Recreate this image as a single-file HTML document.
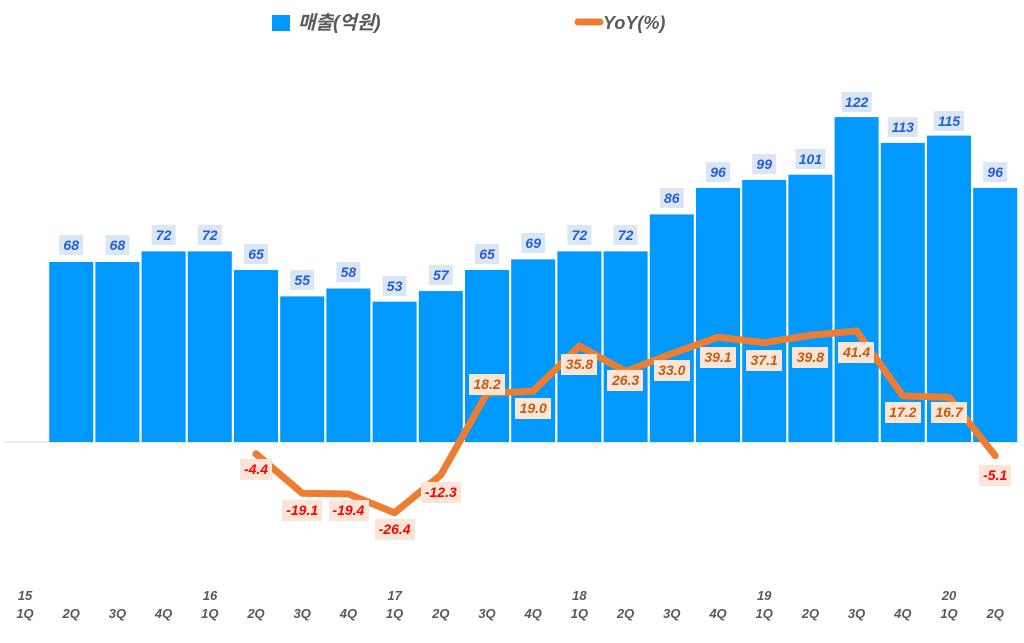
<!DOCTYPE html>
<html><head><meta charset="utf-8"><style>
body{margin:0;background:#fff}
svg text{font-family:"Liberation Sans","Noto Sans CJK KR",sans-serif;font-weight:bold;font-style:italic}
.b text{fill:#1f5fdc;font-size:14px}
.b rect{fill:#dce6f2}
.p rect{fill:#fbe5d6}
.p text{fill:#c55a11;font-size:14px}
.n text{fill:#ff0000}
.ax text{fill:#595959;font-size:13px}
</style></head><body>
<svg width="1024" height="638" xmlns="http://www.w3.org/2000/svg">
<rect x="272" y="15" width="18" height="16" fill="#0099ff"/>
<text x="298" y="29" font-size="19" fill="#595959">매출(억원)</text>
<line x1="578" y1="22" x2="600" y2="22" stroke="#ed7d31" stroke-width="7" stroke-linecap="round"/>
<text x="603" y="29" font-size="18" fill="#595959">YoY(%)</text>
<line x1="5" y1="442" x2="1020" y2="442" stroke="#d9d9d9"/>
<g fill="#0099ff">
<rect x="49.2" y="262" width="44" height="180"/>
<rect x="95.4" y="262" width="44" height="180"/>
<rect x="141.6" y="251.4" width="44" height="190.6"/>
<rect x="187.8" y="251.4" width="44" height="190.6"/>
<rect x="234" y="270" width="44" height="172"/>
<rect x="280.2" y="296.4" width="44" height="145.6"/>
<rect x="326.4" y="288.5" width="44" height="153.5"/>
<rect x="372.6" y="301.7" width="44" height="140.3"/>
<rect x="418.8" y="291.1" width="44" height="150.9"/>
<rect x="465" y="270" width="44" height="172"/>
<rect x="511.2" y="259.4" width="44" height="182.6"/>
<rect x="557.4" y="251.4" width="44" height="190.6"/>
<rect x="603.6" y="251.4" width="44" height="190.6"/>
<rect x="649.8" y="214.4" width="44" height="227.6"/>
<rect x="696" y="187.9" width="44" height="254.1"/>
<rect x="742.2" y="180" width="44" height="262"/>
<rect x="788.4" y="174.7" width="44" height="267.3"/>
<rect x="834.6" y="117.1" width="44" height="324.9"/>
<rect x="880.8" y="142.9" width="44" height="299.1"/>
<rect x="927" y="135.6" width="44" height="306.4"/>
<rect x="973.2" y="187.9" width="44" height="254.1"/>
</g>
<g class="b" text-anchor="middle">
<rect x="59.2" y="235" width="24" height="20"/><text x="71.2" y="250">68</text>
<rect x="105.4" y="235" width="24" height="20"/><text x="117.4" y="250">68</text>
<rect x="151.6" y="225" width="24" height="20"/><text x="163.6" y="240">72</text>
<rect x="197.8" y="225" width="24" height="20"/><text x="209.8" y="240">72</text>
<rect x="244" y="244" width="24" height="20"/><text x="256" y="259">65</text>
<rect x="290.2" y="270" width="24" height="20"/><text x="302.2" y="285">55</text>
<rect x="336.4" y="262" width="24" height="20"/><text x="348.4" y="277">58</text>
<rect x="382.6" y="276" width="24" height="20"/><text x="394.6" y="291">53</text>
<rect x="428.8" y="265" width="24" height="20"/><text x="440.8" y="280">57</text>
<rect x="475" y="244" width="24" height="20"/><text x="487" y="259">65</text>
<rect x="521.2" y="233" width="24" height="20"/><text x="533.2" y="248">69</text>
<rect x="567.4" y="225" width="24" height="20"/><text x="579.4" y="240">72</text>
<rect x="613.6" y="225" width="24" height="20"/><text x="625.6" y="240">72</text>
<rect x="659.8" y="188" width="24" height="20"/><text x="671.8" y="203">86</text>
<rect x="706" y="162" width="24" height="20"/><text x="718" y="177">96</text>
<rect x="752.2" y="154" width="24" height="20"/><text x="764.2" y="169">99</text>
<rect x="795.4" y="149" width="30" height="20"/><text x="810.4" y="164">101</text>
<rect x="841.6" y="92" width="30" height="20"/><text x="856.6" y="107">122</text>
<rect x="887.8" y="117" width="30" height="20"/><text x="902.8" y="132">113</text>
<rect x="934" y="111" width="30" height="20"/><text x="949" y="126">115</text>
<rect x="983.2" y="162" width="24" height="20"/><text x="995.2" y="177">96</text>
</g>
<polyline fill="none" stroke="#ed7d31" stroke-width="7" stroke-linejoin="round" stroke-linecap="round" points="256,453.8 302.2,493.2 348.4,494 394.6,512.8 440.8,475 487,393.2 533.2,391.1 579.4,346.1 625.6,371.5 671.8,353.6 718,337.2 764.2,342.6 810.4,335.3 856.6,331 902.8,395.9 949,397.2 995.2,455.7"/>
<g class="p" text-anchor="middle">
<g class="n">
<rect x="240" y="459" width="32" height="21"/><text x="256" y="474">-4.4</text>
<rect x="282" y="500" width="40" height="21"/><text x="302.2" y="515">-19.1</text>
<rect x="329" y="500" width="40" height="21"/><text x="348.4" y="515">-19.4</text>
<rect x="375" y="519" width="40" height="21"/><text x="394.6" y="534">-26.4</text>
<rect x="421" y="482" width="40" height="21"/><text x="440.8" y="497">-12.3</text>
<rect x="979" y="465" width="32" height="21"/><text x="995.2" y="480">-5.1</text>
</g>
<rect x="469" y="374" width="36" height="21"/><text x="487" y="389">18.2</text>
<rect x="515" y="398" width="36" height="21"/><text x="533.2" y="413">19.0</text>
<rect x="561" y="354" width="36" height="21"/><text x="579.4" y="369">35.8</text>
<rect x="607" y="370" width="36" height="21"/><text x="625.6" y="385">26.3</text>
<rect x="654" y="360" width="36" height="21"/><text x="671.8" y="375">33.0</text>
<rect x="700" y="347" width="36" height="21"/><text x="718" y="362">39.1</text>
<rect x="746" y="350" width="36" height="21"/><text x="764.2" y="365">37.1</text>
<rect x="792" y="347" width="36" height="21"/><text x="810.4" y="362">39.8</text>
<rect x="838" y="342" width="36" height="21"/><text x="856.6" y="357">41.4</text>
<rect x="885" y="402" width="36" height="21"/><text x="902.8" y="417">17.2</text>
<rect x="931" y="402" width="36" height="21"/><text x="949" y="417">16.7</text>
</g>
<g class="ax" text-anchor="middle">
<text x="25" y="600">15</text><text x="210" y="600">16</text><text x="394.6" y="600">17</text><text x="579.4" y="600">18</text><text x="764.2" y="600">19</text><text x="949" y="600">20</text>
<text x="25" y="618">1Q</text><text x="71.2" y="618">2Q</text><text x="117.4" y="618">3Q</text><text x="163.6" y="618">4Q</text>
<text x="209.8" y="618">1Q</text><text x="256" y="618">2Q</text><text x="302.2" y="618">3Q</text><text x="348.4" y="618">4Q</text>
<text x="394.6" y="618">1Q</text><text x="440.8" y="618">2Q</text><text x="487" y="618">3Q</text><text x="533.2" y="618">4Q</text>
<text x="579.4" y="618">1Q</text><text x="625.6" y="618">2Q</text><text x="671.8" y="618">3Q</text><text x="718" y="618">4Q</text>
<text x="764.2" y="618">1Q</text><text x="810.4" y="618">2Q</text><text x="856.6" y="618">3Q</text><text x="902.8" y="618">4Q</text>
<text x="949" y="618">1Q</text><text x="995.2" y="618">2Q</text>
</g>
</svg>
</body></html>
